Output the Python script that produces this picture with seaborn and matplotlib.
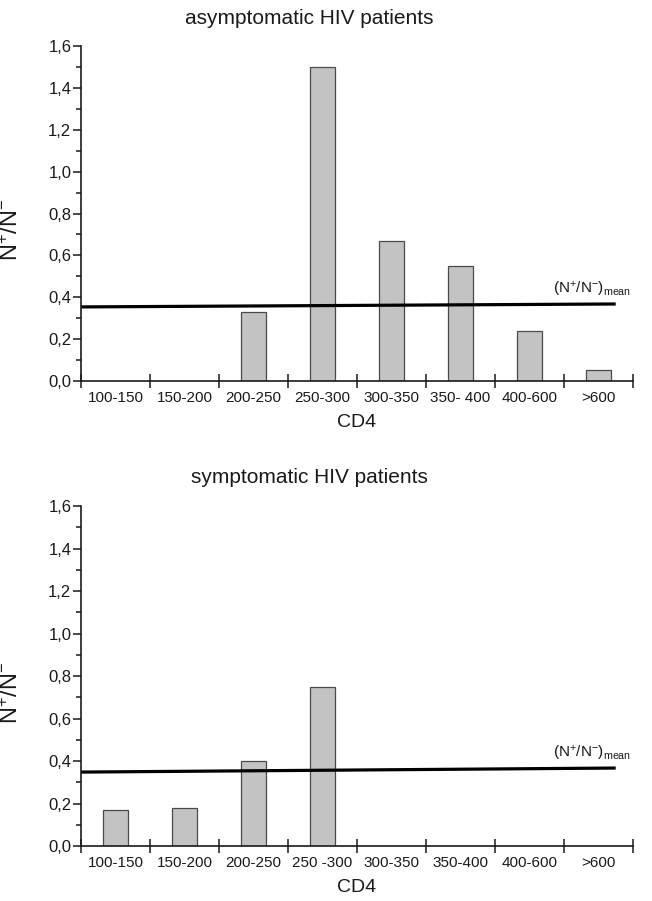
import matplotlib
matplotlib.use("Agg")
import matplotlib.pyplot as plt
import seaborn as sns
import numpy as np
import pandas as pd

# CD4 classes
categories = ["100-150", "150-200", "200-250", "250-300",
              "300-350", "350-400", "400-600", ">600"]
labels_top = ["100-150", "150-200", "200-250", "250-300",
              "300-350", "350- 400", "400-600", ">600"]
labels_bottom = ["100-150", "150-200", "200-250", "250 -300",
                 "300-350", "350-400", "400-600", ">600"]

# N+/N- ratio per class (NaN = no bar)
ratio_asym = [np.nan, np.nan, 0.33, 1.50, 0.67, 0.55, 0.24, 0.055]
ratio_sym = [0.17, 0.18, 0.40, 0.75, np.nan, np.nan, np.nan, np.nan]

# mean ratio line (slightly tilted in the original), start / end values
mean_asym = [0.354, 0.368]
mean_sym = [0.348, 0.367]
mean_x = [-0.5, 7.25]

titles = ["asymptomatic HIV patients", "symptomatic HIV patients"]

sns.set_style("ticks")
plt.rcParams["font.family"] = ["Liberation Sans", "DejaVu Sans"]
plt.rcParams["mathtext.default"] = "regular"

fig = plt.figure(figsize=(6.52, 9.01), dpi=100)
ax_top = fig.add_axes([0.1242, 0.5771, 0.8466, 0.3718])
ax_bot = fig.add_axes([0.1242, 0.0610, 0.8466, 0.3774])

panels = [
    (ax_top, ratio_asym, mean_asym, labels_top, titles[0]),
    (ax_bot, ratio_sym, mean_sym, labels_bottom, titles[1]),
]

ink = "#1a1a1a"

for ax, vals, mean_vals, tick_labels, title in panels:
    df = pd.DataFrame({"CD4": categories, "ratio": vals}).dropna()
    sns.barplot(data=df, x="CD4", y="ratio", order=categories,
                color="#c3c3c3", edgecolor="#4a4a4a", linewidth=0.9,
                width=0.375, saturation=1, ax=ax)

    ax.plot(mean_x, mean_vals, color="black", lw=2.3, solid_capstyle="butt")
    ax.text(6.34, 0.435, r"$(N^{+}/N^{-})_{mean}$", fontsize=11,
            ha="left", va="center", color=ink)

    ax.set_xlim(-0.5, 7.5)
    ax.set_ylim(0, 1.6)

    # x: labels at class centres, ticks at class borders
    ax.set_xticks(range(len(categories)))
    ax.set_xticklabels(tick_labels)
    ax.set_xticks(np.arange(-0.5, 8, 1), minor=True)
    ax.tick_params(axis="x", which="major", length=0, pad=7,
                   labelsize=11, labelcolor=ink)
    ax.tick_params(axis="x", which="minor", length=10, width=1.1,
                   direction="inout", color=ink)

    # y: comma decimals
    yt = np.arange(0, 1.61, 0.2)
    ax.set_yticks(yt)
    ax.set_yticklabels([f"{v:.1f}".replace(".", ",") for v in yt])
    ax.set_yticks(np.arange(0, 1.61, 0.1), minor=True)
    ax.tick_params(axis="y", which="major", length=6, width=1.1,
                   direction="out", labelsize=12, labelcolor=ink, color=ink, pad=1)
    ax.tick_params(axis="y", which="minor", length=3.5, width=1.1,
                   direction="out", color=ink)

    for side in ["top", "right"]:
        ax.spines[side].set_visible(False)
    for side in ["left", "bottom"]:
        ax.spines[side].set_color(ink)
        ax.spines[side].set_linewidth(1.2)

    ax.set_xlabel("CD4", fontsize=14, color=ink)
    ax.set_ylabel(r"$N^{+}/N^{-}$", fontsize=17, color=ink)
    ax.xaxis.set_label_coords(0.5, -0.098)
    ax.yaxis.set_label_coords(-0.105, 0.45)

    ax.text(0.413, 1.083, title, transform=ax.transAxes, fontsize=15,
            ha="center", va="center", color=ink)

fig.savefig("out.png", dpi=100)
